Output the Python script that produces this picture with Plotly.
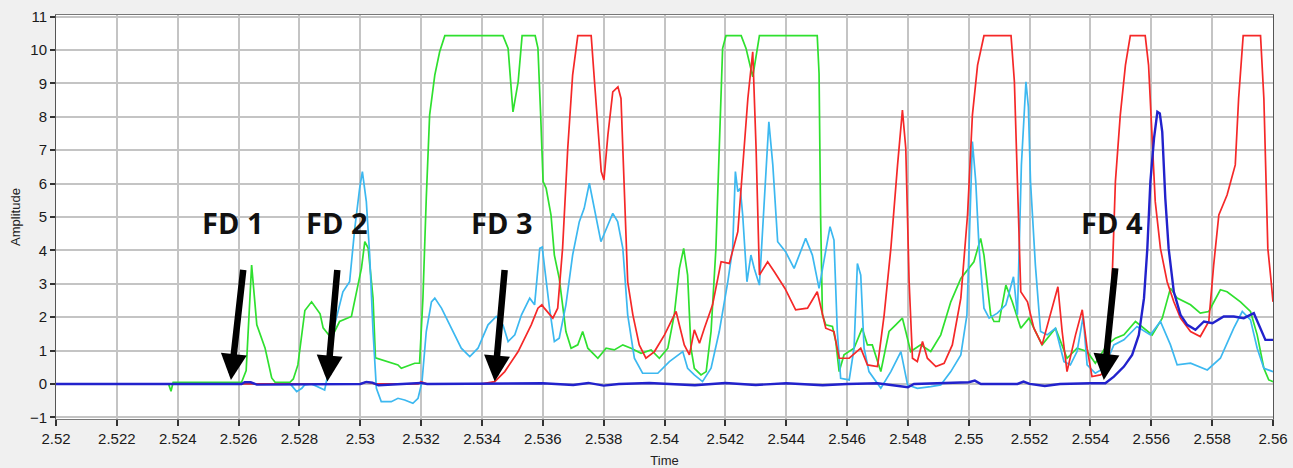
import plotly.graph_objects as go

# ---------------- data ----------------
green_t = [2.52370, 2.52378, 2.52385, 2.52610, 2.52625, 2.52643, 2.52660, 2.52687, 2.52709, 2.52720,
           2.52769, 2.52780, 2.52795, 2.52818, 2.52840, 2.52868, 2.52878, 2.52905, 2.52932, 2.52971,
           2.53004, 2.53015, 2.53026, 2.53042, 2.53050, 2.53124, 2.53135, 2.53179, 2.53195, 2.53206,
           2.53217, 2.53228, 2.53245, 2.53261, 2.53278, 2.53469, 2.53486, 2.53502, 2.53519, 2.53532,
           2.53575, 2.53584, 2.53593, 2.53601, 2.53611, 2.53627, 2.53638, 2.53654, 2.53665, 2.53676,
           2.53693, 2.53715, 2.53731, 2.53748, 2.53781, 2.53808, 2.53835, 2.53863, 2.53890, 2.53923,
           2.53956, 2.53983, 2.54011, 2.54032, 2.54049, 2.54063, 2.54076, 2.54087, 2.54098, 2.54120,
           2.54137, 2.54153, 2.54169, 2.54180, 2.54191, 2.54202, 2.54252, 2.54268, 2.54290, 2.54312,
           2.54502, 2.54508, 2.54513, 2.54519, 2.54530, 2.54552, 2.54563, 2.54574, 2.54590, 2.54623,
           2.54650, 2.54667, 2.54683, 2.54711, 2.54738, 2.54760, 2.54782, 2.54793, 2.54809, 2.54842,
           2.54875, 2.54908, 2.54941, 2.54974, 2.55017, 2.55039, 2.55050, 2.55072, 2.55083, 2.55100,
           2.55122, 2.55143, 2.55171, 2.55198, 2.55241, 2.55285, 2.55323, 2.55356, 2.55389, 2.55416,
           2.55455, 2.55482, 2.55510, 2.55548, 2.55570, 2.55603, 2.55636, 2.55663, 2.55685, 2.55729,
           2.55761, 2.55789, 2.55827, 2.55849, 2.55893, 2.55926, 2.55948, 2.55970, 2.55986, 2.56000]
green_v = [0.00, -0.22, 0.05, 0.05, 0.40, 3.56, 1.77, 1.08, 0.18, 0.05,
           0.05, 0.15, 0.57, 2.20, 2.46, 2.10, 1.68, 1.37, 1.87, 2.02,
           3.47, 4.26, 4.07, 2.57, 0.78, 0.57, 0.47, 0.62, 0.62, 2.57,
           5.56, 8.05, 9.25, 9.95, 10.43, 10.43, 10.05, 8.15, 9.05, 10.43,
           10.43, 10.06, 8.05, 6.06, 5.86, 5.06, 3.86, 3.16, 2.37, 1.57,
           1.07, 1.17, 1.57, 1.07, 0.77, 1.07, 1.02, 1.17, 1.07, 0.92,
           1.02, 0.77, 1.07, 2.07, 3.46, 4.06, 3.26, 1.07, 0.47, 0.27,
           0.37, 1.57, 4.06, 7.06, 10.05, 10.43, 10.43, 10.05, 9.20, 10.43,
           10.43, 9.30, 5.06, 2.07, 1.77, 1.72, 1.27, 0.37, 0.87, 1.07,
           1.67, 1.17, 1.17, 0.37, 1.57, 1.77, 1.97, 1.57, 0.97, 1.17,
           0.97, 1.47, 2.46, 3.16, 3.66, 4.36, 3.86, 2.07, 1.87, 1.87,
           2.96, 2.46, 1.67, 1.97, 1.17, 1.67, 0.77, 1.07, 0.97, 0.62,
           1.17, 1.37, 1.47, 1.87, 1.72, 1.47, 1.97, 2.87, 2.57, 2.37,
           2.12, 2.17, 2.82, 2.76, 2.46, 2.17, 1.47, 0.47, 0.12, 0.07]

cyan_t = [2.52370, 2.52770, 2.52791, 2.52808, 2.52817, 2.52840, 2.52883, 2.52900, 2.52916, 2.52943,
          2.52965, 2.52982, 2.52998, 2.53007, 2.53020, 2.53031, 2.53042, 2.53053, 2.53069, 2.53102,
          2.53124, 2.53146, 2.53173, 2.53190, 2.53203, 2.53217, 2.53234, 2.53245, 2.53267, 2.53299,
          2.53332, 2.53360, 2.53387, 2.53420, 2.53447, 2.53469, 2.53486, 2.53508, 2.53530, 2.53557,
          2.53573, 2.53590, 2.53598, 2.53605, 2.53622, 2.53638, 2.53654, 2.53676, 2.53698, 2.53720,
          2.53736, 2.53753, 2.53769, 2.53791, 2.53814, 2.53830, 2.53846, 2.53863, 2.53879, 2.53901,
          2.53928, 2.53978, 2.54016, 2.54060, 2.54076, 2.54098, 2.54125, 2.54153, 2.54180, 2.54208,
          2.54224, 2.54233, 2.54241, 2.54249, 2.54257, 2.54271, 2.54284, 2.54295, 2.54312, 2.54326,
          2.54343, 2.54356, 2.54372, 2.54398, 2.54426, 2.54464, 2.54486, 2.54508, 2.54530, 2.54544,
          2.54557, 2.54568, 2.54579, 2.54607, 2.54623, 2.54634, 2.54645, 2.54656, 2.54672, 2.54711,
          2.54744, 2.54777, 2.54799, 2.54831, 2.54875, 2.54908, 2.54941, 2.54974, 2.54994, 2.55005,
          2.55012, 2.55023, 2.55034, 2.55050, 2.55067, 2.55094, 2.55122, 2.55147, 2.55160, 2.55173,
          2.55188, 2.55196, 2.55203, 2.55219, 2.55236, 2.55258, 2.55285, 2.55313, 2.55334, 2.55356,
          2.55376, 2.55389, 2.55416, 2.55444, 2.55477, 2.55510, 2.55553, 2.55597, 2.55630, 2.55663,
          2.55685, 2.55729, 2.55784, 2.55827, 2.55871, 2.55899, 2.55926, 2.55948, 2.55970, 2.56000]
cyan_v = [0.00, 0.00, -0.23, -0.13, -0.03, 0.00, -0.18, 0.57, 1.77, 2.76,
          3.06, 4.66, 5.86, 6.36, 5.46, 3.86, 1.57, -0.13, -0.53, -0.53,
          -0.43, -0.48, -0.58, -0.43, 0.07, 1.57, 2.46, 2.57, 2.27, 1.67,
          1.07, 0.82, 1.07, 1.77, 2.02, 1.77, 1.27, 1.47, 2.07, 2.57,
          2.37, 4.06, 4.10, 3.56, 2.27, 1.27, 1.37, 2.37, 3.86, 4.86,
          5.26, 6.01, 5.26, 4.26, 4.76, 5.11, 4.86, 4.06, 2.07, 0.77,
          0.32, 0.32, 0.67, 0.97, 0.47, 0.27, 0.07, 0.47, 1.57, 3.06,
          4.06, 6.36, 5.76, 5.86, 5.06, 3.06, 3.86, 3.46, 2.96, 5.06,
          7.85, 6.56, 4.26, 3.96, 3.46, 4.36, 3.86, 2.86, 4.06, 4.71,
          4.31, 1.57, 0.17, 0.12, 1.07, 3.61, 3.26, 1.07, 0.37, -0.13,
          0.37, 0.97, -0.03, -0.13, -0.08, -0.03, 0.37, 0.87, 2.07, 5.06,
          7.26, 6.06, 4.06, 2.27, 1.97, 2.12, 2.37, 3.21, 2.07, 6.56,
          9.05, 8.30, 6.06, 3.56, 1.57, 1.47, 1.67, 0.67, 0.57, 0.97,
          2.02, 0.57, 0.32, 0.47, 1.17, 1.32, 1.72, 1.47, 1.87, 1.17,
          0.57, 0.62, 0.42, 0.77, 1.67, 2.17, 1.92, 1.07, 0.47, 0.37]

red_t = [2.52370, 2.53000, 2.53020, 2.53050, 2.53190, 2.53200, 2.53220, 2.53400, 2.53442, 2.53475,
         2.53519, 2.53562, 2.53584, 2.53597, 2.53605, 2.53633, 2.53649, 2.53665, 2.53682, 2.53698,
         2.53715, 2.53759, 2.53770, 2.53781, 2.53792, 2.53801, 2.53814, 2.53830, 2.53847, 2.53857,
         2.53868, 2.53879, 2.53896, 2.53917, 2.53939, 2.53967, 2.54000, 2.54038, 2.54065, 2.54082,
         2.54098, 2.54115, 2.54131, 2.54158, 2.54186, 2.54213, 2.54241, 2.54257, 2.54274, 2.54290,
         2.54301, 2.54312, 2.54339, 2.54361, 2.54396, 2.54431, 2.54470, 2.54502, 2.54530, 2.54557,
         2.54574, 2.54607, 2.54645, 2.54667, 2.54700, 2.54722, 2.54744, 2.54766, 2.54782, 2.54793,
         2.54804, 2.54815, 2.54831, 2.54848, 2.54864, 2.54892, 2.54919, 2.54946, 2.54974, 2.54996,
         2.55012, 2.55029, 2.55050, 2.55139, 2.55150, 2.55160, 2.55171, 2.55193, 2.55214, 2.55241,
         2.55269, 2.55293, 2.55307, 2.55323, 2.55351, 2.55373, 2.55389, 2.55405, 2.55433, 2.55460,
         2.55471, 2.55482, 2.55498, 2.55515, 2.55531, 2.55580, 2.55591, 2.55602, 2.55613, 2.55630,
         2.55652, 2.55674, 2.55696, 2.55729, 2.55761, 2.55789, 2.55805, 2.55822, 2.55849, 2.55876,
         2.55887, 2.55902, 2.55959, 2.55970, 2.55975, 2.55983, 2.55994, 2.56000]
red_v = [0.00, 0.00, 0.06, 0.00, 0.00, 0.07, 0.00, 0.00, 0.07, 0.37,
         0.97, 1.77, 2.27, 2.37, 2.27, 1.97, 2.27, 4.06, 7.06, 9.25,
         10.43, 10.43, 9.05, 7.55, 6.36, 6.11, 7.46, 8.75, 8.90, 8.55,
         6.06, 3.06, 2.07, 1.17, 0.77, 0.97, 1.47, 2.17, 1.17, 0.87,
         1.62, 1.22, 1.67, 2.37, 3.66, 3.61, 4.56, 6.56, 8.55, 9.95,
         7.06, 3.26, 3.66, 3.36, 2.86, 2.22, 2.27, 2.76, 1.67, 1.57,
         0.77, 0.77, 1.07, 0.57, 0.52, 2.07, 4.06, 6.56, 8.20, 7.06,
         3.06, 0.77, 0.67, 1.27, 0.77, 0.52, 0.62, 1.17, 2.57, 5.06,
         8.05, 9.55, 10.43, 10.43, 9.05, 6.06, 2.76, 2.46, 1.67, 1.17,
         2.07, 2.91, 1.57, 0.37, 1.47, 2.22, 1.07, 0.22, 0.27, 0.47,
         3.06, 6.06, 8.05, 9.55, 10.43, 10.43, 9.55, 7.55, 5.46, 4.06,
         3.06, 2.46, 1.97, 1.57, 1.42, 1.87, 3.56, 5.06, 5.66, 6.56,
         8.55, 10.43, 10.43, 8.55, 6.56, 4.06, 3.06, 2.46]

blue_t = [2.52000, 2.52610, 2.52620, 2.52640, 2.52660, 2.53000, 2.53020, 2.53040, 2.53060, 2.53200,
          2.53220, 2.53600, 2.53700, 2.53750, 2.53800, 2.53850, 2.53950, 2.54000, 2.54100, 2.54200,
          2.54300, 2.54400, 2.54520, 2.54600, 2.54700, 2.54800, 2.54820, 2.55000, 2.55020, 2.55040,
          2.55160, 2.55180, 2.55200, 2.55250, 2.55300, 2.55400, 2.55449, 2.55477, 2.55510, 2.55537,
          2.55559, 2.55576, 2.55587, 2.55597, 2.55609, 2.55620, 2.55628, 2.55636, 2.55646, 2.55657,
          2.55674, 2.55696, 2.55718, 2.55745, 2.55773, 2.55801, 2.55838, 2.55871, 2.55904, 2.55937,
          2.55959, 2.55975, 2.56000]
blue_v = [0.00, 0.00, 0.05, 0.05, -0.02, 0.00, 0.06, 0.04, -0.04, 0.03,
          0.00, 0.02, -0.03, 0.03, -0.05, 0.00, 0.03, 0.00, -0.04, 0.03,
          -0.03, 0.02, -0.04, 0.00, 0.02, -0.10, 0.00, 0.05, 0.10, 0.00,
          0.00, 0.07, 0.00, -0.06, 0.00, 0.02, 0.02, 0.22, 0.52, 0.87,
          1.47, 2.57, 4.06, 6.06, 7.36, 8.15, 8.10, 7.55, 5.56, 4.06,
          2.76, 2.07, 1.77, 1.62, 1.87, 1.82, 2.02, 2.02, 1.97, 2.12,
          1.67, 1.32, 1.32]

# annotations: label text, label position, arrow tail, arrow tip
fd_labels = ["FD 1", "FD 2", "FD 3", "FD 4"]
fd_label_t = [2.52583, 2.52924, 2.53466, 2.55471]
fd_label_v = [4.85, 4.85, 4.85, 4.85]
fd_tail_t = [2.52616, 2.52925, 2.53475, 2.55482]
fd_tail_v = [3.46, 3.46, 3.46, 3.51]
fd_tip_t = [2.52575, 2.52892, 2.53442, 2.55444]
fd_tip_v = [0.12, 0.07, 0.07, 0.12]

x_tick_vals = [2.520, 2.522, 2.524, 2.526, 2.528, 2.530, 2.532, 2.534, 2.536, 2.538, 2.540,
               2.542, 2.544, 2.546, 2.548, 2.550, 2.552, 2.554, 2.556, 2.558, 2.560]
x_tick_text = ["2.52", "2.522", "2.524", "2.526", "2.528", "2.53", "2.532", "2.534", "2.536",
               "2.538", "2.54", "2.542", "2.544", "2.546", "2.548", "2.55", "2.552", "2.554",
               "2.556", "2.558", "2.56"]
y_tick_vals = [-1, 0, 1, 2, 3, 4, 5, 6, 7, 8, 9, 10, 11]

# ---------------- figure ----------------
fig = go.Figure()
fig.add_trace(go.Scatter(x=green_t, y=green_v, mode="lines",
                         line=dict(color="#2fe02f", width=1.7), hoverinfo="skip"))
fig.add_trace(go.Scatter(x=cyan_t, y=cyan_v, mode="lines",
                         line=dict(color="#3cb8f0", width=1.7), hoverinfo="skip"))
fig.add_trace(go.Scatter(x=red_t, y=red_v, mode="lines",
                         line=dict(color="#f52828", width=1.7), hoverinfo="skip"))
fig.add_trace(go.Scatter(x=blue_t, y=blue_v, mode="lines",
                         line=dict(color="#2222cc", width=2.4), hoverinfo="skip"))

annotations = []
for lab, lt, lv, tt, tv, pt, pv in zip(fd_labels, fd_label_t, fd_label_v,
                                       fd_tail_t, fd_tail_v, fd_tip_t, fd_tip_v):
    annotations.append(dict(x=lt, y=lv, xref="x", yref="y", text="<b>" + lab + "</b>",
                            showarrow=False,
                            font=dict(family="Open Sans", size=29, color="#111111")))
    annotations.append(dict(x=pt, y=pv, ax=tt, ay=tv, xref="x", yref="y",
                            axref="x", ayref="y", text="", showarrow=True,
                            arrowhead=2, arrowsize=0.8, arrowwidth=6.5,
                            arrowcolor="#000000", standoff=0, startstandoff=0))

fig.update_layout(
    width=1293, height=468,
    margin=dict(l=56, r=20, t=15, b=49),
    paper_bgcolor="#f0f0f0",
    plot_bgcolor="#ffffff",
    showlegend=False,
    annotations=annotations,
    font=dict(family="Liberation Sans", size=15, color="#222222"),
)
fig.update_xaxes(
    range=[2.52, 2.56], tickmode="array", tickvals=x_tick_vals, ticktext=x_tick_text,
    showgrid=True, gridcolor="#c4c4c4", gridwidth=2,
    ticks="outside", ticklen=6, tickwidth=2, tickcolor="#333333",
    showline=True, linecolor="#777777", linewidth=1, mirror=True,
    zeroline=False, automargin=False,
    title=dict(text="Time", font=dict(size=13, color="#222222"), standoff=10),
    tickfont=dict(size=15, color="#1a1a1a"),
)
fig.update_yaxes(
    range=[-1.05, 11.05], tickmode="array", tickvals=y_tick_vals,
    showgrid=True, gridcolor="#c4c4c4", gridwidth=2,
    ticks="outside", ticklen=5, tickwidth=2, tickcolor="#333333",
    showline=True, linecolor="#555555", linewidth=1, mirror=True,
    zeroline=False, automargin=False,
    title=dict(text="Amplitude", font=dict(size=13, color="#222222"), standoff=6),
    tickfont=dict(size=15, color="#1a1a1a"),
)

fig.write_html("out.html")
